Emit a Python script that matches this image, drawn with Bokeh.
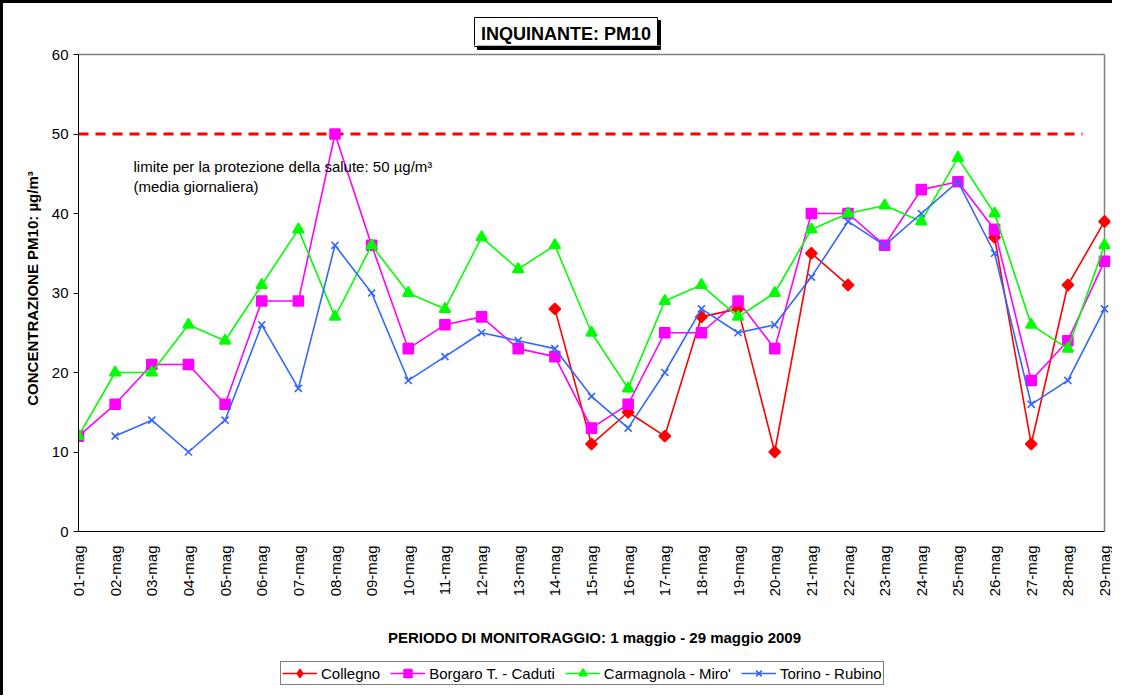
import numpy as np
from bokeh.plotting import figure
from bokeh.layouts import column
from bokeh.models import (Range1d, FixedTicker, Label, Legend, LegendItem,
                          ColumnDataSource)
from bokeh.core.properties import value
from bokeh.embed import file_html
from bokeh.resources import INLINE

# ---------------- data ----------------
days = list(range(1, 30))
day_labels = ["01-mag", "02-mag", "03-mag", "04-mag", "05-mag", "06-mag", "07-mag",
              "08-mag", "09-mag", "10-mag", "11-mag", "12-mag", "13-mag", "14-mag",
              "15-mag", "16-mag", "17-mag", "18-mag", "19-mag", "20-mag", "21-mag",
              "22-mag", "23-mag", "24-mag", "25-mag", "26-mag", "27-mag", "28-mag",
              "29-mag"]

collegno = [None, None, None, None, None, None, None, None, None, None, None, None, None,
            28, 11, 15, 12, 27, 28, 10, 35, 31, None, None, None, 37, 11, 31, 39]
borgaro = [12, 16, 21, 21, 16, 29, 29, 50, 36, 23, 26, 27, 23, 22, 13, 16, 25, 25, 29,
           23, 40, 40, 36, 43, 44, 38, 19, 24, 34]
carmagnola = [12, 20, 20, 26, 24, 31, 38, 27, 36, 30, 28, 37, 33, 36, 25, 18, 29, 31, 27,
              30, 38, 40, 41, 39, 47, 40, 26, 23, 36]
torino = [None, 12, 14, 10, 14, 26, 18, 36, 30, 19, 22, 25, 24, 23, 17, 13, 20, 28, 25,
          26, 32, 39, 36, 40, 44, 35, 16, 19, 28]

series_names = ["Collegno", "Borgaro T. - Caduti", "Carmagnola - Miro'", "Torino - Rubino"]
series_values = [collegno, borgaro, carmagnola, torino]

y_ticks = [0, 10, 20, 30, 40, 50, 60]
y_min, y_max = 0, 60
limit_value = 50
limit_end_day = 28.4
limit_text_1 = "limite per la protezione della salute: 50 µg/m³"
limit_text_2 = "(media giornaliera)"
title_text = "INQUINANTE: PM10"
x_title = "PERIODO DI MONITORAGGIO: 1 maggio - 29 maggio 2009"
y_title = "CONCENTRAZIONE PM10: µg/m³"

# ---------------- styles / geometry (page pixels) ----------------
FONT = "Liberation Sans"
colors = ["#FF0000", "#FF00FF", "#00FF00", "#3366FF"]
markers = ["square", "square", "triangle", "x"]
angles = [np.pi / 4, 0, 0, 0]
msizes = [8, 10, 11, 10]
legend_markers = ["diamond", "square", "triangle", "x"]
legend_msizes = [12, 10, 11, 10]

W = 1112
BORDER = 3
FR_L, FR_R = 78, 1104            # day 1 / day 29
FR_T, FR_B = 57, 534             # value 60 / value 0
FRAME_R = FR_R + 6               # a little room so right-edge markers show fully
TH = 45                          # title strip height
P_TOP = BORDER + TH              # page y where the chart canvas starts
P_H = 604
L_TOP = P_TOP + P_H
LH = 46
BOX = dict(l=474, r=657, t=17, b=49, shadow=3)   # title box on the page

PX_DAY = (FR_R - FR_L) / (days[-1] - days[0])
PX_UNIT = (FR_B - FR_T) / (y_max - y_min)


def dx(px):
    return days[0] + (px - FR_L) / PX_DAY


def dy(py):
    return y_min + (FR_B - py) / PX_UNIT


# ---------- title strip ----------
tf = figure(width=W, height=TH, output_backend="svg", toolbar_location=None,
            x_range=Range1d(FR_L, FRAME_R), y_range=Range1d(BORDER + TH, BORDER),
            x_axis_type=None, y_axis_type=None, min_border=0,
            min_border_left=FR_L - BORDER, min_border_right=BORDER + W - FRAME_R)
tf.outline_line_color = None
tf.xgrid.visible = False
tf.ygrid.visible = False
tf.styles = {"border-top": "3px solid black", "border-left": "3px solid black"}
s = BOX["shadow"]
tf.quad(left=[BOX["l"] + s], right=[BOX["r"] + s], top=[BOX["t"] + s],
        bottom=[BOX["b"] + s], fill_color="black", line_color="black")
tf.quad(left=[BOX["l"]], right=[BOX["r"]], top=[BOX["t"]], bottom=[BOX["b"]],
        fill_color="white", line_color="black", line_width=1)
tf.text(x=[(BOX["l"] + BOX["r"]) / 2], y=[(BOX["t"] + BOX["b"]) / 2 + 0.5],
        text=[title_text], text_align="center", text_baseline="middle",
        text_font=value(FONT), text_font_size="18px", text_font_style="bold",
        text_color="black")

# ---------- main chart ----------
p = figure(width=W, height=P_H, output_backend="svg", toolbar_location=None,
           x_range=Range1d(days[0], dx(FRAME_R)), y_range=Range1d(y_min, dy(P_TOP)),
           min_border_left=FR_L - BORDER, min_border_right=BORDER + W - FRAME_R,
           min_border_top=0, min_border_bottom=P_H - (FR_B - P_TOP))
p.styles = {"border-left": "3px solid black"}
p.xgrid.visible = False
p.ygrid.visible = False
p.outline_line_color = None
p.background_fill_color = "white"
p.border_fill_color = "white"

p.xaxis.ticker = FixedTicker(ticks=days)
p.xaxis.bounds = (days[0], days[-1])
p.xaxis.major_label_overrides = {d: lab for d, lab in zip(days, day_labels)}
p.xaxis.major_label_orientation = np.pi / 2
p.xaxis.major_tick_out = 0
p.xaxis.major_tick_in = 0
p.xaxis.minor_tick_out = 0
p.xaxis.minor_tick_in = 0
p.xaxis.major_label_standoff = 14
p.xaxis.axis_label = x_title
p.xaxis.axis_label_standoff = 30

p.yaxis.ticker = FixedTicker(ticks=y_ticks)
p.yaxis.bounds = (y_min, y_max)
p.yaxis.major_tick_out = 5
p.yaxis.major_tick_in = 0
p.yaxis.minor_tick_out = 0
p.yaxis.minor_tick_in = 0
p.yaxis.major_label_standoff = 5
p.yaxis.axis_label = y_title
p.yaxis.axis_label_standoff = 8

for ax in (p.xaxis, p.yaxis):
    ax.axis_line_color = "black"
    ax.axis_line_width = 1
    ax.major_tick_line_color = "black"
    ax.major_label_text_font = FONT
    ax.major_label_text_font_size = "15px"
    ax.major_label_text_color = "black"
    ax.axis_label_text_font = FONT
    ax.axis_label_text_font_size = "15px"
    ax.axis_label_text_font_style = "bold"
    ax.axis_label_text_color = "black"

# lower part of the title box that reaches into the chart canvas
p.quad(left=[dx(BOX["l"] + s)], right=[dx(BOX["r"] + s)], top=[dy(BOX["t"] + s)],
       bottom=[dy(BOX["b"] + s)], fill_color="black", line_color="black")
p.quad(left=[dx(BOX["l"])], right=[dx(BOX["r"])], top=[dy(BOX["t"])],
       bottom=[dy(BOX["b"])], fill_color="white", line_color="black", line_width=1)

# plot-area border (top and right, grey)
p.segment(x0=[days[0], days[-1]], y0=[y_max, y_min], x1=[days[-1], days[-1]],
          y1=[y_max, y_max], line_color="#808080", line_width=1.5)

# limit line
p.line(x=[days[0], limit_end_day], y=[limit_value, limit_value], line_color="#FF0000",
       line_width=3, line_dash="10 7")

# series
sources = []
for name, vals, col, mk, ang, ms in zip(series_names, series_values, colors, markers,
                                        angles, msizes):
    arr = np.array(vals, dtype=float)
    src = ColumnDataSource(dict(x=days, y=arr))
    sources.append(src)
    p.line("x", "y", source=src, line_color=col, line_width=1.6)
    p.scatter("x", "y", source=src, marker=mk, angle=ang, size=ms, fill_color=col,
              line_color=col, line_width=1.6)

# annotation text
p.add_layout(Label(x=dx(133), y=dy(160), text=limit_text_1, text_font=FONT,
                   text_font_size="15px", text_color="black", text_baseline="top"))
p.add_layout(Label(x=dx(133), y=dy(180), text=limit_text_2, text_font=FONT,
                   text_font_size="15px", text_color="black", text_baseline="top"))

# ---------- legend strip (same series, out of its view; only the legend shows) ----------
lf = figure(width=W, height=LH, output_backend="svg", toolbar_location=None,
            x_range=Range1d(-2, -1), y_range=Range1d(-2, -1),
            x_axis_type=None, y_axis_type=None, min_border=0,
            min_border_left=FR_L - BORDER, min_border_right=BORDER + W - FRAME_R)
lf.outline_line_color = None
lf.xgrid.visible = False
lf.ygrid.visible = False
lf.styles = {"border-left": "3px solid black"}
items = []
for name, src, col, mk, ms in zip(series_names, sources, colors, legend_markers,
                                  legend_msizes):
    ln = lf.line("x", "y", source=src, line_color=col, line_width=1.6)
    sc = lf.scatter("x", "y", source=src, marker=mk, size=ms, fill_color=col,
                    line_color=col, line_width=1.6)
    items.append(LegendItem(label=name, renderers=[ln, sc]))

legend = Legend(items=items, orientation="horizontal",
                location=(280 - FR_L, (L_TOP + LH) - 688),
                border_line_color="black", border_line_width=1, padding=1, spacing=10,
                margin=0, label_text_font=FONT, label_text_font_size="15px",
                label_text_color="black", glyph_width=35, glyph_height=20,
                label_height=18, label_standoff=4, background_fill_color="white",
                background_fill_alpha=1.0)
lf.add_layout(legend)

layout = column(tf, p, lf, spacing=0)
open("out.html", "w").write(file_html(layout, INLINE))
